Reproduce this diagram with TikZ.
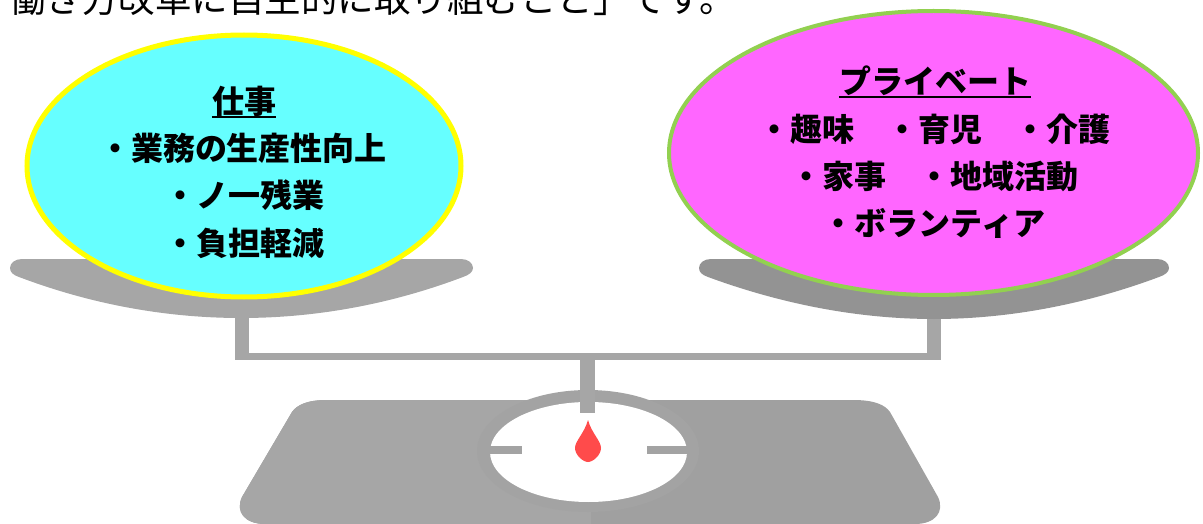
\documentclass[tikz,border=0pt]{standalone}
\usepackage{fontspec}
\setmainfont{Noto Sans CJK JP}
\usetikzlibrary{shapes.geometric}
\definecolor{baseL}{HTML}{A6A6A6}
\definecolor{baseR}{HTML}{A0A0A0}
\definecolor{ringc}{HTML}{A3A3A3}
\definecolor{beamc}{HTML}{A6A6A6}
\definecolor{panL}{HTML}{A6A6A6}
\definecolor{panR}{HTML}{939393}
\definecolor{needlec}{HTML}{FF4B4B}
\definecolor{workfill}{HTML}{66FFFF}
\definecolor{workline}{HTML}{FFFF00}
\definecolor{lifefill}{HTML}{FF66FF}
\definecolor{lifeline}{HTML}{92D050}
\tikzset{
  lbl/.style={inner sep=0pt, anchor=base, font=\fontsize{32}{38}\selectfont\bfseries},
  bubble/.style={ellipse, inner sep=0pt, outer sep=0pt},
  uline/.style={line width=2pt}
}
\begin{document}
\begin{tikzpicture}[x=1pt,y=-1pt]
\useasboundingbox (0,0) rectangle (1203,524);
\clip (0,0) rectangle (1203,524);

% platform of the scale, two shades split at the middle
\fill[baseR] (327,400) -- (853,400) .. controls (875,400) and (885,405) .. (890,412)
  -- (938,497) .. controls (945,512) and (935,524) .. (915,524) -- (265,524)
  .. controls (245,524) and (235,512) .. (242,497) -- (292,412)
  .. controls (297,405) and (307,400) .. (327,400) -- cycle;
\begin{scope}
  \clip (0,380) rectangle (591,524);
  \fill[baseL] (327,400) -- (853,400) .. controls (875,400) and (885,405) .. (890,412)
    -- (938,497) .. controls (945,512) and (935,524) .. (915,524) -- (265,524)
    .. controls (245,524) and (235,512) .. (242,497) -- (292,412)
    .. controls (297,405) and (307,400) .. (327,400) -- cycle;
\end{scope}

% dial
\fill[ringc] (588,451) ellipse [x radius=111pt, y radius=61pt];
\fill[white] (588.5,452) ellipse [x radius=98.5pt, y radius=50pt];
\fill[ringc] (490,446) rectangle (522,454);
\fill[ringc] (647,446) rectangle (688,454);

% beam and posts
\fill[beamc] (235,300) rectangle (249,360);
\fill[beamc] (235,353) rectangle (941,360);
\fill[beamc] (927,300) rectangle (941,360);
\fill[beamc] (580,358) rectangle (595,413);

% needle
\fill[needlec] (588,420) .. controls (591.5,433) and (601,441) .. (601,448)
  .. controls (601,455) and (593,462) .. (588,462)
  .. controls (583,462) and (575,455) .. (575,448)
  .. controls (575,441) and (584.5,433) .. (588,420) -- cycle;

% pans
\fill[panL] (22,259) -- (461,259) .. controls (468,259) and (473,263) .. (473,268)
  .. controls (473,272) and (469,275) .. (463,277)
  .. controls (397,302) and (322,318) .. (241,318)
  .. controls (160,318) and (85,302) .. (19,277)
  .. controls (13,275) and (10,272) .. (10,268)
  .. controls (10,263) and (15,259) .. (22,259) -- cycle;
\fill[panR] (711,259) -- (1157,259) .. controls (1164,259) and (1169,263) .. (1169,268)
  .. controls (1169,272) and (1165,275) .. (1159,277)
  .. controls (1092,302) and (1015,319) .. (934,319)
  .. controls (853,319) and (776,302) .. (708,277)
  .. controls (702,275) and (699,272) .. (699,268)
  .. controls (699,263) and (704,259) .. (711,259) -- cycle;

% the two bubbles
\node[bubble, draw=workline, line width=5pt, fill=workfill,
      minimum width=434pt, minimum height=262pt] (work) at (244,166) {};
\node[bubble, draw=lifeline, line width=4pt, fill=lifefill,
      minimum width=529pt, minimum height=284pt] (life) at (933.5,153) {};

% work side text
\node[lbl] (wtitle) at (244,113.3) {仕事};
\draw[uline] ([yshift=-3.5pt]wtitle.base west) -- ([yshift=-3.5pt]wtitle.base east);
\node[lbl] (w1) at (243,161) {・業務の生産性向上};
\node[lbl] (w2) at (244,207.5) {・ノ一残業};
\node[lbl] (w3) at (244,255.5) {・負担軽減};

% private side text
\node[lbl] (ltitle) at (935,94) {プライベート};
\draw[uline] ([yshift=-3.5pt]ltitle.base west) -- ([yshift=-3.5pt]ltitle.base east);
\node[lbl] (l1) at (934.5,142) {・趣味　・育児　・介護};
\node[lbl] (l2) at (934,189) {・家事　・地域活動};
\node[lbl] (l3) at (934,236) {・ボランティア};

% heading line, cut by the top edge
\node[inner sep=0pt, anchor=base west, font=\fontsize{36.5}{40}\selectfont] (head) at (9,13)
  {働き方改革に自主的に取り組むこと」です。};
\end{tikzpicture}
\end{document}
